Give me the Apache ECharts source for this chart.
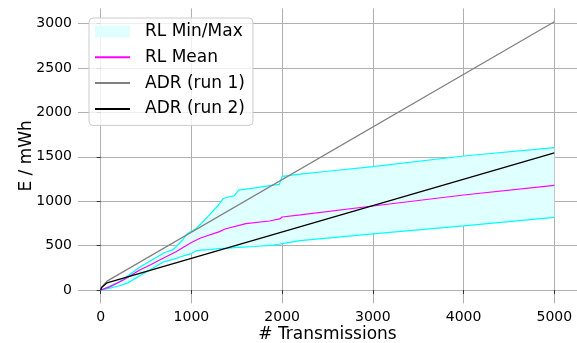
<!DOCTYPE html>
<html>
<head>
<meta charset="utf-8">
<script src="https://cdn.jsdelivr.net/npm/echarts@6/dist/echarts.min.js"></script>
<style>
html,body{margin:0;padding:0;background:#fff;}
#chart{width:577px;height:343px;}
</style>
</head>
<body>
<div id="chart"></div>
<script>
// ---- data ----
const xTicks = [0, 1000, 2000, 3000, 4000, 5000];
const yTicks = [0, 500, 1000, 1500, 2000, 2500, 3000];

const bandX  = [0, 50, 100, 200, 300, 430, 550, 700, 800, 900, 950, 1000, 1050, 1100, 1200, 1300, 1350, 1420, 1470, 1520, 1700, 1900, 1970, 2000, 2200, 2500, 3000, 4000, 5000];
const rlMax  = [0, 20, 45, 90, 160, 255, 330, 420, 455, 560, 630, 660, 690, 740, 845, 960, 1030, 1050, 1060, 1125, 1150, 1180, 1190, 1280, 1305, 1337, 1389, 1509, 1603];
const rlMin  = [0, 8, 20, 45, 80, 160, 230, 320, 345, 380, 395, 410, 440, 448, 455, 465, 468, 472, 476, 480, 490, 505, 515, 522, 555, 585, 631, 721, 818];

const meanX  = [0, 100, 250, 430, 550, 650, 830, 1000, 1100, 1310, 1370, 1600, 1860, 1975, 2000, 2200, 3000, 4000, 5000];
const rlMean = [0, 35, 113, 225, 285, 338, 430, 535, 585, 657, 687, 748, 777, 800, 822, 845, 946, 1070, 1179];

const adr1X  = [0, 10, 30, 70, 5000];
const adr1Y  = [0, 30, 55, 100, 3020];
const adr2X  = [0, 10, 30, 70, 5000];
const adr2Y  = [0, 28, 50, 81, 1545];

// ---- build ----
const zip = (xs, ys) => xs.map((x, i) => [x, ys[i]]);

const FONT = 'DejaVu Sans';
const chart = echarts.init(document.getElementById('chart'), null, {renderer: 'canvas'});

function renderBand(params, api) {
  const pts = [];
  for (let i = 0; i < bandX.length; i++) pts.push(api.coord([bandX[i], rlMax[i]]));
  for (let i = bandX.length - 1; i >= 0; i--) pts.push(api.coord([bandX[i], rlMin[i]]));
  return {
    type: 'polygon',
    shape: {points: pts},
    style: {fill: '#e0ffff', stroke: null}
  };
}

chart.setOption({
  animation: false,
  backgroundColor: '#ffffff',
  grid: {left: 78, right: 0, top: 8.4, bottom: 39.6, containLabel: false, outerBoundsMode: 'none'},
  legend: {
    left: 89, top: 18, orient: 'vertical',
    padding: [5, 8, 8, 5],
    itemWidth: 35, itemHeight: 12, itemGap: 8.8,
    backgroundColor: 'rgba(255,255,255,0.8)',
    borderColor: '#cccccc', borderWidth: 1, borderRadius: 4,
    itemStyle: {opacity: 0},
    textStyle: {fontFamily: FONT, fontSize: 17, color: '#000', padding: [0, 0, 0, 10], lineHeight: 17},
    data: [
      {name: 'RL Min/Max', icon: 'rect', itemStyle: {color: '#e0ffff', opacity: 1, borderWidth: 0}},
      {name: 'RL Mean'},
      {name: 'ADR (run 1)'},
      {name: 'ADR (run 2)'}
    ]
  },
  xAxis: {
    type: 'value', min: -250, max: 5250,
    axisLine: {show: false},
    axisTick: {show: true, length: 4, lineStyle: {color: '#333', width: 1}, customValues: xTicks},
    axisLabel: {customValues: xTicks, formatter: v => String(v), fontFamily: FONT, fontSize: 14, color: '#000', margin: 7},
    splitLine: {show: true, lineStyle: {color: '#b0b0b0', width: 1}},
    name: '# Transmissions', nameLocation: 'middle', nameGap: 22.5, nameMoveOverlap: false,
    nameTextStyle: {fontFamily: FONT, fontSize: 17, color: '#000'}
  },
  yAxis: {
    type: 'value', min: -151, max: 3171,
    axisLine: {show: false},
    axisTick: {show: true, length: 4, lineStyle: {color: '#333', width: 1}, customValues: yTicks},
    axisLabel: {customValues: yTicks, formatter: v => String(v), fontFamily: FONT, fontSize: 14, color: '#000', margin: 6},
    splitLine: {show: true, lineStyle: {color: '#b0b0b0', width: 1}},
    name: 'E / mWh', nameLocation: 'middle', nameGap: 43, nameMoveOverlap: false,
    nameTextStyle: {fontFamily: FONT, fontSize: 17, color: '#000'}
  },
  series: [
    {
      name: 'RL Min/Max', type: 'custom',
      data: [[0, 0]],
      renderItem: renderBand,
      itemStyle: {color: '#e0ffff'},
      clip: true, silent: true,
      z: 1
    },
    {
      name: 'RL Max line', type: 'line', symbol: 'none',
      data: zip(bandX, rlMax),
      lineStyle: {color: '#00ffff', width: 1.2}, itemStyle: {color: '#00ffff'},
      z: 2
    },
    {
      name: 'RL Min line', type: 'line', symbol: 'none',
      data: zip(bandX, rlMin),
      lineStyle: {color: '#00ffff', width: 1.2}, itemStyle: {color: '#00ffff'},
      z: 2
    },
    {
      name: 'RL Mean', type: 'line', symbol: 'none',
      data: zip(meanX, rlMean),
      lineStyle: {color: '#ff00ff', width: 1.2}, itemStyle: {color: '#ff00ff'},
      z: 3
    },
    {
      name: 'ADR (run 1)', type: 'line', symbol: 'none',
      data: zip(adr1X, adr1Y),
      lineStyle: {color: '#808080', width: 1.2}, itemStyle: {color: '#808080'},
      z: 4
    },
    {
      name: 'ADR (run 2)', type: 'line', symbol: 'none',
      data: zip(adr2X, adr2Y),
      lineStyle: {color: '#000000', width: 1.3}, itemStyle: {color: '#000000'},
      z: 5
    }
  ]
});
</script>
</body>
</html>
